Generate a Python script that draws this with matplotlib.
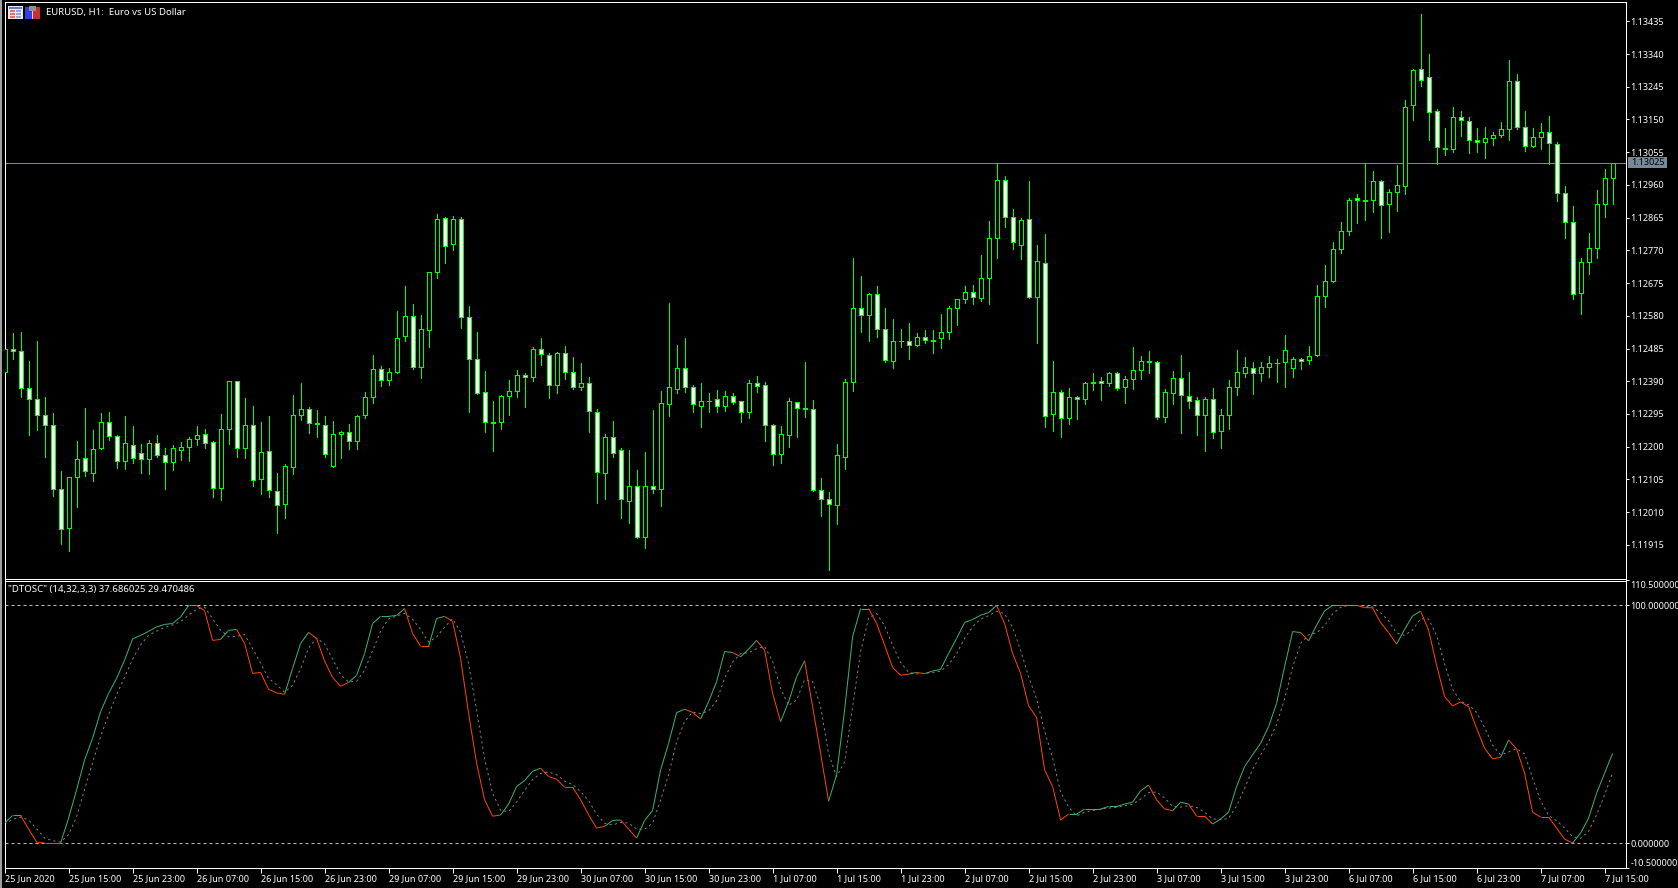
import numpy as np
import matplotlib
matplotlib.use("Agg")
import matplotlib.pyplot as plt
from matplotlib.collections import LineCollection
from matplotlib.patches import Rectangle

W, H = 1678, 888
FONT = "Noto Sans"

# prices in 1e-5 units
opens = [
112418,112483,112477,112369,112339,112291,112262,112076,111963,112111,
112166,112125,112195,112271,112230,112158,112204,112181,112163,112210,
112175,112155,112189,112198,112221,112236,112213,112079,112250,112390,
112197,112262,112107,112187,112070,112033,112140,112291,112308,112268,
112262,112143,112236,112242,112216,112291,112343,112425,112393,112416,
112520,112578,112430,112538,112706,112863,112788,112860,112576,112456,
112360,112271,112271,112346,112361,112409,112401,112483,112465,112378,
112471,112416,112374,112384,112302,112124,112227,112189,112043,112087,
111938,112087,112078,112325,112368,112427,112372,112319,112334,112337,
112319,112346,112334,112302,112384,112378,112262,112179,112235,112329,
112311,112308,112073,112047,112032,112171,112387,112604,112581,112642,
112541,112448,112506,112506,112494,112517,112511,112515,112532,112602,
112628,112648,112631,112689,112805,112973,112866,112787,112860,112636,
112732,112294,112360,112282,112343,112337,112387,112390,112384,112413,
112372,112396,112422,112445,112445,112285,112355,112399,112346,112335,
112291,112338,112245,112291,112372,112413,112427,112413,112431,112442,
112445,112428,112454,112451,112465,112637,112680,112773,112825,112921,
112915,112915,112971,112904,112939,112956,113191,113296,113272,113174,
113066,113063,113156,113145,113090,113084,113095,113104,113121,113261,
113127,113072,113098,113113,113078,112936,112851,112645,112735,112776,
112904,112979]
closes = [
112483,112477,112369,112338,112291,112262,112076,111960,112111,112163,
112129,112192,112271,112230,112158,112210,112168,112163,112210,112175,
112155,112195,112198,112221,112233,112210,112079,112250,112390,112195,
112262,112102,112184,112073,112030,112143,112291,112308,112268,112265,
112178,112236,112242,112216,112288,112343,112425,112393,112416,112515,
112578,112430,112541,112706,112860,112782,112860,112576,112454,112357,
112271,112270,112346,112361,112407,112401,112483,112468,112378,112471,
112416,112374,112384,112305,112127,112227,112183,112047,112087,111938,
112087,112076,112326,112372,112427,112372,112323,112334,112333,112319,
112346,112330,112302,112384,112377,112262,112178,112238,112332,112311,
112308,112073,112047,112033,112175,112387,112604,112581,112642,112541,
112451,112506,112507,112494,112517,112509,112507,112532,112602,112628,
112648,112634,112689,112805,112973,112866,112793,112857,112634,112738,
112288,112360,112282,112343,112337,112384,112384,112384,112413,112369,
112396,112422,112448,112448,112285,112358,112399,112349,112332,112291,
112338,112242,112291,112372,112416,112431,112413,112431,112442,112443,
112480,112454,112448,112462,112637,112680,112773,112825,112915,112915,
112912,112971,112901,112939,112959,113185,113293,113264,113171,113069,
113063,113156,113148,113090,113084,113095,113104,113121,113261,113127,
113072,113098,113113,113081,112936,112851,112642,112735,112776,112904,
112979,113025]
highs = [
112483,112529,112533,112448,112507,112344,112297,112130,112111,112216,
112311,112249,112297,112300,112234,112289,112260,112208,112220,112234,
112195,112204,112213,112227,112260,112251,112216,112295,112390,112390,
112341,112318,112272,112289,112124,112149,112349,112384,112315,112307,
112289,112275,112246,112266,112292,112359,112466,112434,112429,112593,
112667,112614,112581,112706,112876,112868,112870,112867,112609,112533,
112419,112333,112349,112393,112423,112413,112489,112516,112471,112475,
112492,112459,112443,112402,112308,112236,112274,112196,112189,112132,
112184,112306,112361,112617,112495,112515,112378,112385,112355,112364,
112361,112356,112334,112393,112405,112388,112267,112260,112341,112329,
112445,112336,112109,112067,112208,112397,112748,112696,112646,112667,
112603,112570,112541,112559,112529,112539,112539,112585,112608,112628,
112667,112669,112757,112855,113025,112986,112890,112863,112971,112787,
112817,112448,112364,112370,112347,112388,112414,112402,112417,112416,
112405,112490,112463,112478,112448,112368,112420,112466,112417,112343,
112343,112371,112309,112394,112481,112460,112446,112446,112463,112455,
112524,112460,112457,112492,112670,112728,112794,112852,112922,112934,
113025,113001,112974,112948,113018,113207,113297,113456,113340,113180,
113125,113186,113175,113156,113125,113128,113114,113143,113323,113282,
113175,113125,113140,113160,113085,112957,112899,112748,112821,112945,
113006,113025]
lows = [
112418,112455,112345,112234,112249,112171,112057,111918,111898,112026,
112116,112099,112194,112218,112139,112135,112154,112125,112121,112171,
112078,112132,112161,112157,112205,112197,112054,112045,112209,112171,
112168,112087,112064,112055,111948,111994,112122,112278,112240,112229,
112170,112142,112168,112194,112194,112284,112327,112376,112379,112415,
112508,112426,112400,112490,112691,112734,112772,112545,112302,112354,
112243,112188,112252,112292,112344,112315,112392,112437,112341,112357,
112397,112368,112365,112242,112036,112048,112170,111993,111978,111935,
111906,112066,112027,112289,112356,112359,112300,112258,112300,112300,
112303,112325,112271,112283,112358,112216,112147,112153,112199,112228,
112286,112072,111999,111843,111975,112135,112361,112533,112507,112518,
112446,112428,112489,112455,112493,112502,112472,112487,112513,112553,
112617,112614,112623,112614,112748,112838,112774,112745,112632,112501,
112257,112245,112228,112266,112280,112324,112364,112335,112376,112364,
112328,112368,112397,112415,112279,112273,112325,112241,112313,112235,
112188,112226,112197,112252,112350,112401,112354,112392,112402,112389,
112374,112403,112426,112441,112462,112606,112679,112763,112815,112848,
112858,112882,112806,112823,112884,112934,113149,113247,113091,113022,
113047,113057,113102,113053,113056,113038,113076,113099,113091,113122,
113059,113070,113064,113021,112913,112806,112629,112585,112702,112748,
112867,112905]

osc_main = [
8.4,11.6,11.6,5.9,0.4,0,0,0,10.5,22.4,35.0,44.1,55.3,63.0,69.3,77.0,85.9,87.4,89.1,91.0,
92.0,92.4,95.2,100,100,97.8,85.3,85.7,89.5,89.9,84.0,71.4,71.8,64.7,63.2,62.6,73.5,84.0,88.7,86.1,
76.6,69.7,66.0,67.6,70.6,79.8,92.4,95.4,95.4,95.8,98.7,88.2,82.8,82.8,94.5,95.4,93.3,77.7,54.6,33.6,
18.2,11.3,11.8,16.4,23.8,26.3,30.2,31.5,28.0,26.9,23.5,23.5,18.2,11.9,6.3,7.0,9.5,9.7,5.9,2.1,
9.5,13.7,30.8,42.0,54.9,56.3,55.0,52.2,59.5,67.9,80.6,80.2,78.4,81.6,85.3,81.2,63.0,51.1,59.5,70.0,
76.7,57.4,37.8,17.6,28.7,56.0,86.8,98.7,98.7,92.4,83.3,73.9,70.6,71.1,71.8,71.3,72.4,73.1,79.8,86.1,
92.8,94.1,95.9,97.0,100,92.4,79.8,71.4,57.8,52.8,30.8,23.8,9.7,12.2,12.2,14.3,14.3,14.3,15.4,15.4,
16.4,17.2,22.0,24.4,18.2,14.4,13.6,17.2,16.4,11.3,11.3,8.0,10.1,13.0,23.8,32.2,37.1,42.0,49.0,58.8,
74.2,89.0,88.6,85.1,91.7,97.7,100,100,100,100,99.1,99.0,92.8,88.6,83.7,89.9,95.6,97.6,89.6,74.9,
61.6,57.7,59.4,57.4,48.3,39.9,35.4,36.1,43.4,39.6,29.4,13.0,10.9,10.9,6.3,1.7,0,4.2,10.5,21.0,
29.4,37.69]
osc_signal = [
8.0,10.0,10.9,9.7,6.0,2.1,1.0,0.4,3.5,11.0,22.6,33.8,44.8,54.1,62.5,69.8,77.4,83.4,87.5,89.2,
90.7,91.8,93.2,95.9,98.4,99.3,94.4,89.6,86.8,87.0,87.8,81.8,75.7,69.3,66.6,63.5,66.4,73.4,82.1,86.3,
83.8,77.5,70.8,67.8,68.1,72.7,80.9,89.2,94.4,95.5,96.7,94.2,89.9,84.6,86.7,90.9,94.4,88.8,75.4,56.0,
35.5,21.0,13.8,13.2,17.3,22.2,26.8,29.3,29.9,28.8,26.1,24.6,21.7,17.9,12.1,8.4,7.6,8.7,8.4,5.9,
5.8,8.4,18.0,28.8,42.6,51.1,55.1,54.5,55.6,59.9,69.3,76.2,79.7,80.1,81.8,82.7,76.5,65.1,57.9,60.2,
68.7,68.0,57.3,37.6,28.0,34.1,57.2,80.5,94.7,96.6,91.5,83.2,76.0,71.9,71.2,71.4,71.8,72.3,75.1,79.7,
86.2,91.0,94.3,95.7,97.6,96.5,90.7,81.2,70.0,60.7,47.1,35.8,21.4,15.2,11.4,13.0,13.6,14.3,14.7,15.0,
15.7,16.3,18.5,21.2,21.5,19.0,15.4,15.1,15.7,15.0,13.0,10.2,9.8,10.4,15.6,23.0,31.0,37.1,42.6,49.9,
60.7,74.0,84.1,87.6,88.5,91.5,96.4,99.2,100,100,99.7,99.4,96.9,93.5,88.4,87.4,89.7,94.4,94.3,87.4,
75.4,64.7,59.6,58.2,55.0,48.6,41.2,37.1,38.3,39.7,37.5,27.3,17.8,11.6,9.4,6.3,2.7,2.0,4.9,11.9,
20.3,29.47]

price_ticks = [1.13435,1.13340,1.13245,1.13150,1.13055,1.12960,1.12865,1.12770,1.12675,1.12580,
               1.12485,1.12390,1.12295,1.12200,1.12105,1.12010,1.11915]
last_price = 1.13025
osc_levels = [100.0, 0.0]
osc_ticks = [110.5, 100.0, 0.0, -10.5]
date_labels = ["25 Jun 2020","25 Jun 15:00","25 Jun 23:00","26 Jun 07:00","26 Jun 15:00","26 Jun 23:00",
               "29 Jun 07:00","29 Jun 15:00","29 Jun 23:00","30 Jun 07:00","30 Jun 15:00","30 Jun 23:00",
               "1 Jul 07:00","1 Jul 15:00","1 Jul 23:00","2 Jul 07:00","2 Jul 15:00","2 Jul 23:00",
               "3 Jul 07:00","3 Jul 15:00","3 Jul 23:00","6 Jul 07:00","6 Jul 15:00","6 Jul 23:00",
               "7 Jul 07:00","7 Jul 15:00"]
date_tick_bars = list(range(0, 201, 8))

GREEN = "#00FF00"
UP = "#3CB371"
DOWN = "#FF4500"
PX = 72 / 100  # one pixel, in points
FS = 6.5
FS_HEAD = 6.9

plt.rcParams["font.family"] = [FONT, "DejaVu Sans"]
fig = plt.figure(figsize=(W / 100, H / 100), dpi=100, facecolor="black")


def make_axes(left, top, right, bottom):
    ax = fig.add_axes([left / W, 1 - bottom / H, (right - left) / W, (bottom - top) / H], facecolor="black")
    for s in ax.spines.values():
        s.set_color("white")
        s.set_linewidth(PX)
    ax.set_xlim((left - 4.6) / 8, (right - 4.6) / 8)
    ax.yaxis.tick_right()
    ax.tick_params(axis="y", colors="white", length=3 * PX, width=PX, pad=1.2, labelsize=FS)
    return ax


ax1 = make_axes(4.5, 2.5, 1625.5, 578.5)
ax2 = make_axes(4.5, 580.5, 1625.5, 868.0)

# ---- candles
o = np.array(opens) / 1e5
c = np.array(closes) / 1e5
h = np.array(highs) / 1e5
l = np.array(lows) / 1e5
x = np.arange(len(o))
ax1.vlines(x, l, h, color=GREEN, lw=PX, antialiased=False, zorder=2)
bottoms = np.minimum(o, c)
heights = np.abs(c - o)
fills = ["white" if cc < oo else "black" for oo, cc in zip(o, c)]
ax1.bar(x, heights, 0.5, bottom=bottoms, color=fills, edgecolor=GREEN, linewidth=PX, antialiased=False, zorder=3)
ax1.axhline(last_price, color="#778899", lw=PX, zorder=1)
ax1.set_ylim(1.118173, 1.134896)
ax1.set_xticks([])
ax1.set_yticks(price_ticks)
ax1.set_yticklabels([f"{p:.5f}" for p in price_ticks])

# ---- oscillator
m = np.array(osc_main)
s = np.array(osc_signal)
for lev in osc_levels:
    ax2.axhline(lev, color="#C0C0C0", lw=PX, ls=(0, (3, 3)), zorder=1)
ax2.plot(x, s, color="#8C8C8C", lw=PX * 0.9, ls=(0, (2.5, 3.5)), zorder=2)
pts = np.column_stack([x, m])
segs = np.stack([pts[:-1], pts[1:]], axis=1)
seg_colors = [UP if a >= b else DOWN for a, b in zip(m[1:], s[1:])]
ax2.add_collection(LineCollection(segs, colors=seg_colors, linewidths=PX, zorder=3))
ax2.set_ylim(-10.5, 110.5)
ax2.set_yticks(osc_ticks)
labels = ax2.set_yticklabels([f"{t:.6f}" for t in osc_ticks])
labels[0].set_va("top")
labels[3].set_va("bottom")
ax2.set_xticks(date_tick_bars)
ax2.set_xticklabels(date_labels, ha="left", fontsize=FS, color="white")
ax2.tick_params(axis="x", colors="white", length=5 * PX, width=PX, pad=0.5)


# ---- window edge, price tag and header icons
def box(px, py, w, hh, col):
    fig.add_artist(Rectangle((px / W, 1 - (py + hh) / H), w / W, hh / H, transform=fig.transFigure,
                             facecolor=col, edgecolor="none", zorder=10))


box(0, 0, 2, H, "#A0A0A0")
box(1628, 157, 39, 11, "#778899")
box(8, 6, 15, 13, "#E8E8F0")
box(9, 7, 13, 2, "#6C78C8")
for ry in (10, 13, 16):
    box(10, ry, 5, 2, "#E87060")
    box(16, ry, 5, 2, "#90A8E0")
box(25, 7, 7, 12, "#3040E0")
box(32, 7, 8, 12, "#C83030")
box(29, 6, 7, 5, "#909090")
box(32, 11, 1, 8, "#D0D0D0")

# ---- texts
fig.text(46 / W, 1 - 12.5 / H, "EURUSD, H1:  Euro vs US Dollar", color="white", fontsize=FS_HEAD, va="center", ha="left")
fig.text(7.5 / W, 1 - 589 / H, '"DTOSC" (14,32,3,3) 37.686025 29.470486', color="white", fontsize=FS_HEAD, va="center", ha="left")
fig.text(1631 / W, 1 - 162.5 / H, f"{last_price:.5f}", color="black", fontsize=FS, va="center", ha="left", zorder=11)

fig.savefig("out.png", dpi=100, facecolor="black")
